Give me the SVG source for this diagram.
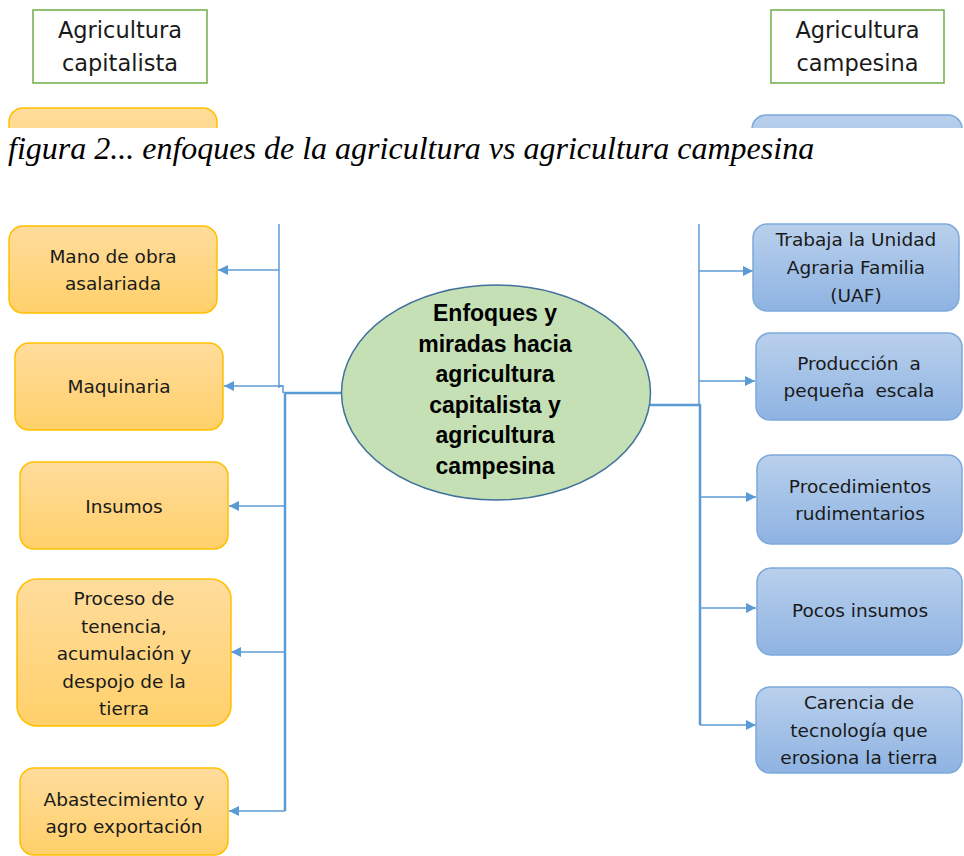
<svg xmlns="http://www.w3.org/2000/svg" width="964" height="856" viewBox="0 0 964 856">
<defs>
<linearGradient id="gOr" x1="0" y1="0" x2="0" y2="1">
<stop offset="0" stop-color="#FFDC9C"/>
<stop offset="1" stop-color="#FFD06A"/>
</linearGradient>
<linearGradient id="gBl" x1="0" y1="0" x2="0" y2="1">
<stop offset="0" stop-color="#B9D0EC"/>
<stop offset="1" stop-color="#8EB3E2"/>
</linearGradient>
<marker id="ar" viewBox="0 0 10 10" refX="10" refY="5" markerWidth="11" markerHeight="10" markerUnits="userSpaceOnUse" orient="auto">
<path d="M0,0 L10,5 L0,10 z" fill="#5B9BD5"/>
</marker>
<clipPath id="topclip"><rect x="0" y="0" width="964" height="128"/></clipPath>
</defs>
<style>
.hdr{fill:#fff;stroke:#70AD47;stroke-width:1.5}
.ht{font-family:"DejaVu Sans",sans-serif;font-size:22.5px;fill:#1a1a1a;text-anchor:middle}
.or{fill:url(#gOr);stroke:#FFC000;stroke-width:1.5}
.bl{fill:url(#gBl);stroke:#7EA9DB;stroke-width:1.5}
.t{font-family:"DejaVu Sans",sans-serif;font-size:18.5px;fill:#1a1a1a;text-anchor:middle}
.cap{font-family:"Liberation Serif",serif;font-style:italic;font-size:32px;fill:#000}
.et{font-family:"Liberation Sans",sans-serif;font-weight:bold;font-size:23px;fill:#000;text-anchor:middle}
.thin{fill:none;stroke:#5B9BD5;stroke-width:1.5}
.thick{fill:none;stroke:#5B9BD5;stroke-width:2.5}
</style>

<g id="hdr-capitalista">
<rect class="hdr" x="33" y="10" width="174" height="73"/>
<text class="ht" x="120" y="38">Agricultura</text>
<text class="ht" x="120" y="71">capitalista</text>
</g>
<g id="hdr-campesina">
<rect class="hdr" x="771" y="10" width="173" height="73"/>
<text class="ht" x="857.5" y="38">Agricultura</text>
<text class="ht" x="857.5" y="71">campesina</text>
</g>

<g id="partial-boxes" clip-path="url(#topclip)">
<rect class="or" x="9" y="108" width="208" height="87" rx="14"/>
<rect class="bl" x="752" y="115" width="210" height="87" rx="14"/>
</g>

<text class="cap" x="8" y="159">figura 2... enfoques de la agricultura vs agricultura campesina</text>

<g id="connectors">
<path class="thin" d="M279,224 V388"/>
<path class="thin" d="M279,270 H218" marker-end="url(#ar)"/>
<path class="thin" d="M283,386 H224" marker-end="url(#ar)"/>
<path class="thin" d="M279,386 H283 V393"/>
<path class="thick" d="M343,393 H285 V811"/>
<path class="thin" d="M285,506 H229" marker-end="url(#ar)"/>
<path class="thin" d="M285,652 H231" marker-end="url(#ar)"/>
<path class="thin" d="M285,811 H229" marker-end="url(#ar)"/>

<path class="thin" d="M699,224 V405"/>
<path class="thick" d="M645,405 H700 V725"/>
<path class="thin" d="M699,271 H753" marker-end="url(#ar)"/>
<path class="thin" d="M699,381 H755" marker-end="url(#ar)"/>
<path class="thin" d="M700,497 H756" marker-end="url(#ar)"/>
<path class="thin" d="M700,608 H756" marker-end="url(#ar)"/>
<path class="thin" d="M700,725 H756" marker-end="url(#ar)"/>
</g>

<g id="center">
<ellipse cx="496" cy="392.5" rx="154.5" ry="107.5" fill="#C5E0B4" stroke="#41719C" stroke-width="1.5"/>
<text class="et" x="495" y="321">Enfoques y</text>
<text class="et" x="495" y="352">miradas hacia</text>
<text class="et" x="495" y="382">agricultura</text>
<text class="et" x="495" y="413">capitalista y</text>
<text class="et" x="495" y="443">agricultura</text>
<text class="et" x="495" y="474">campesina</text>
</g>

<g id="mano-de-obra">
<rect class="or" x="9" y="226" width="208" height="87" rx="14"/>
<text class="t" x="113" y="263">Mano de obra</text>
<text class="t" x="113" y="290">asalariada</text>
</g>
<g id="maquinaria">
<rect class="or" x="15" y="343" width="208" height="87" rx="14"/>
<text class="t" x="119" y="393">Maquinaria</text>
</g>
<g id="insumos">
<rect class="or" x="20" y="462" width="208" height="87" rx="14"/>
<text class="t" x="124" y="513">Insumos</text>
</g>
<g id="proceso">
<rect class="or" x="17" y="579" width="214" height="147" rx="20"/>
<text class="t" x="124" y="605">Proceso de</text>
<text class="t" x="124" y="632.5">tenencia,</text>
<text class="t" x="124" y="660">acumulación y</text>
<text class="t" x="124" y="687.5">despojo de la</text>
<text class="t" x="124" y="715">tierra</text>
</g>
<g id="abastecimiento">
<rect class="or" x="20" y="768" width="208" height="87" rx="14"/>
<text class="t" x="124" y="806">Abastecimiento y</text>
<text class="t" x="124" y="833">agro exportación</text>
</g>

<g id="uaf">
<rect class="bl" x="753" y="224" width="206" height="87" rx="14"/>
<text class="t" x="856" y="246">Trabaja la Unidad</text>
<text class="t" x="856" y="274">Agraria Familia</text>
<text class="t" x="856" y="302">(UAF)</text>
</g>
<g id="produccion">
<rect class="bl" x="756" y="333" width="206" height="87" rx="14"/>
<text class="t" x="859" y="370" word-spacing="5">Producción a</text>
<text class="t" x="859" y="397" word-spacing="5">pequeña escala</text>
</g>
<g id="procedimientos">
<rect class="bl" x="757" y="455" width="205" height="89" rx="14"/>
<text class="t" x="860" y="493">Procedimientos</text>
<text class="t" x="860" y="520">rudimentarios</text>
</g>
<g id="pocos-insumos">
<rect class="bl" x="757" y="568" width="205" height="87" rx="14"/>
<text class="t" x="860" y="617">Pocos insumos</text>
</g>
<g id="carencia">
<rect class="bl" x="756" y="687" width="206" height="86" rx="14"/>
<text class="t" x="859" y="709">Carencia de</text>
<text class="t" x="859" y="737">tecnología que</text>
<text class="t" x="859" y="764">erosiona la tierra</text>
</g>
</svg>
